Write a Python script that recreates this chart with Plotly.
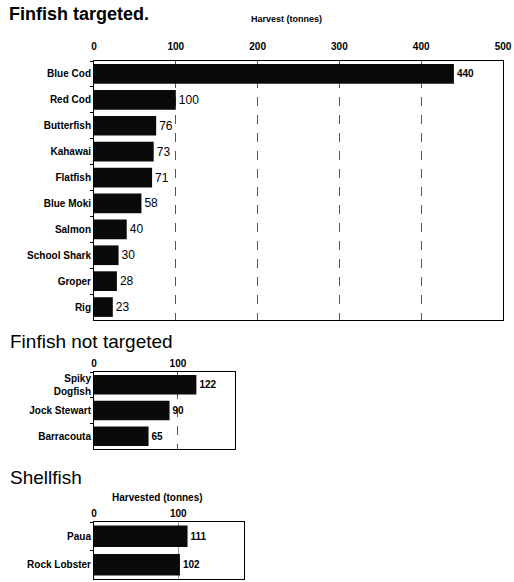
import plotly.graph_objects as go

# ---- data ----
targeted_species = ["Blue Cod", "Red Cod", "Butterfish", "Kahawai", "Flatfish",
                    "Blue Moki", "Salmon", "School Shark", "Groper", "Rig"]
targeted_harvest = [440, 100, 76, 73, 71, 58, 40, 30, 28, 23]

nontargeted_species = ["Spiky<br>Dogfish", "Jock Stewart", "Barracouta"]
nontargeted_harvest = [122, 90, 65]

shellfish_species = ["Paua", "Rock Lobster"]
shellfish_harvest = [111, 102]

top_ticks = [0, 100, 200, 300, 400, 500]
small_ticks = [0, 100]

W, H = 514, 582
FONT = "Liberation Sans, Arial, sans-serif"


def px_x(a, b):
    return [a / W, b / W]


def px_y(top, bottom):
    return [1 - bottom / H, 1 - top / H]


fig = go.Figure()

top_text = ["<b>%d</b>" % targeted_harvest[0]] + [str(v) for v in targeted_harvest[1:]]
top_sizes = [10] + [12] * (len(targeted_harvest) - 1)

fig.add_trace(go.Bar(
    x=targeted_harvest, y=targeted_species, orientation="h",
    marker=dict(color="#0a0a0a", line=dict(width=0)),
    text=top_text, textposition="outside", constraintext="none",
    textfont=dict(family=FONT, size=top_sizes, color="black"),
    cliponaxis=False, xaxis="x", yaxis="y", showlegend=False,
    hoverinfo="x+y",
))

fig.add_trace(go.Bar(
    x=nontargeted_harvest, y=nontargeted_species, orientation="h",
    marker=dict(color="#0a0a0a", line=dict(width=0)),
    text=["<b>%d</b>" % v for v in nontargeted_harvest], textposition="outside",
    constraintext="none",
    textfont=dict(family=FONT, size=10, color="black"),
    cliponaxis=False, xaxis="x2", yaxis="y2", showlegend=False,
    hoverinfo="x+y",
))

fig.add_trace(go.Bar(
    x=shellfish_harvest, y=shellfish_species, orientation="h",
    marker=dict(color="#0a0a0a", line=dict(width=0)),
    text=["<b>%d</b>" % v for v in shellfish_harvest], textposition="outside",
    constraintext="none",
    textfont=dict(family=FONT, size=10, color="black"),
    cliponaxis=False, xaxis="x3", yaxis="y3", showlegend=False,
    hoverinfo="x+y",
))

common_x = dict(
    side="top", showline=True, mirror=True, linecolor="black", linewidth=1,
    showgrid=True, gridcolor="#555555", griddash="dash", gridwidth=1,
    zeroline=False, ticks="outside", tickcolor="rgba(0,0,0,0)",
    tickfont=dict(family=FONT, size=10, color="black", weight="bold"),
    fixedrange=True, automargin=False,
)
common_y = dict(
    showline=True, mirror=True, linecolor="black", linewidth=1,
    autorange="reversed", ticks="outside", tickson="boundaries", ticklen=3,
    tickcolor="black", showgrid=False,
    tickfont=dict(family=FONT, size=10, color="black", weight="bold"),
    fixedrange=True, automargin=False,
)

fig.update_layout(
    width=W, height=H,
    margin=dict(l=0, r=0, t=0, b=0, pad=0, autoexpand=False),
    paper_bgcolor="white", plot_bgcolor="white",
    bargap=0.24,
    font=dict(family=FONT, color="black"),
    xaxis=dict(common_x, domain=px_x(94, 503), range=[0, 500], anchor="y",
               tickvals=top_ticks, ticklen=6),
    yaxis=dict(common_y, domain=px_y(61, 320), anchor="x"),
    xaxis2=dict(common_x, domain=px_x(94, 235), range=[0, 168], anchor="y2",
                tickvals=small_ticks, ticklen=0),
    yaxis2=dict(common_y, domain=px_y(372, 449), anchor="x2"),
    xaxis3=dict(common_x, domain=px_x(94, 244), range=[0, 178], anchor="y3",
                tickvals=small_ticks, ticklen=0, gridcolor="#999999",
                griddash="solid"),
    yaxis3=dict(common_y, domain=px_y(522, 579), anchor="x3"),
)

annotations = [
    dict(text="<b>Finfish targeted.</b>", x=7 / W, y=1 - 14 / H, size=18),
    dict(text="Finfish not targeted", x=8 / W, y=1 - 341 / H, size=19),
    dict(text="Shellfish", x=8 / W, y=1 - 477 / H, size=19),
]
for a in annotations:
    fig.add_annotation(text=a["text"], x=a["x"], y=a["y"], xref="paper", yref="paper",
                       xanchor="left", yanchor="middle", showarrow=False,
                       font=dict(family=FONT, size=a["size"], color="black"))

fig.add_annotation(text="<b>Harvest (tonnes)</b>", x=286 / W, y=1 - 19 / H,
                   xref="paper", yref="paper", xanchor="center", yanchor="middle",
                   showarrow=False, font=dict(family=FONT, size=9, color="black"))
fig.add_annotation(text="<b>Harvested (tonnes)</b>", x=157 / W, y=1 - 497 / H,
                   xref="paper", yref="paper", xanchor="center", yanchor="middle",
                   showarrow=False, font=dict(family=FONT, size=10, color="black"))

fig.write_html("out.html", config={"displayModeBar": False},
               post_script="document.body.style.margin='0';document.body.style.overflow='hidden';")
